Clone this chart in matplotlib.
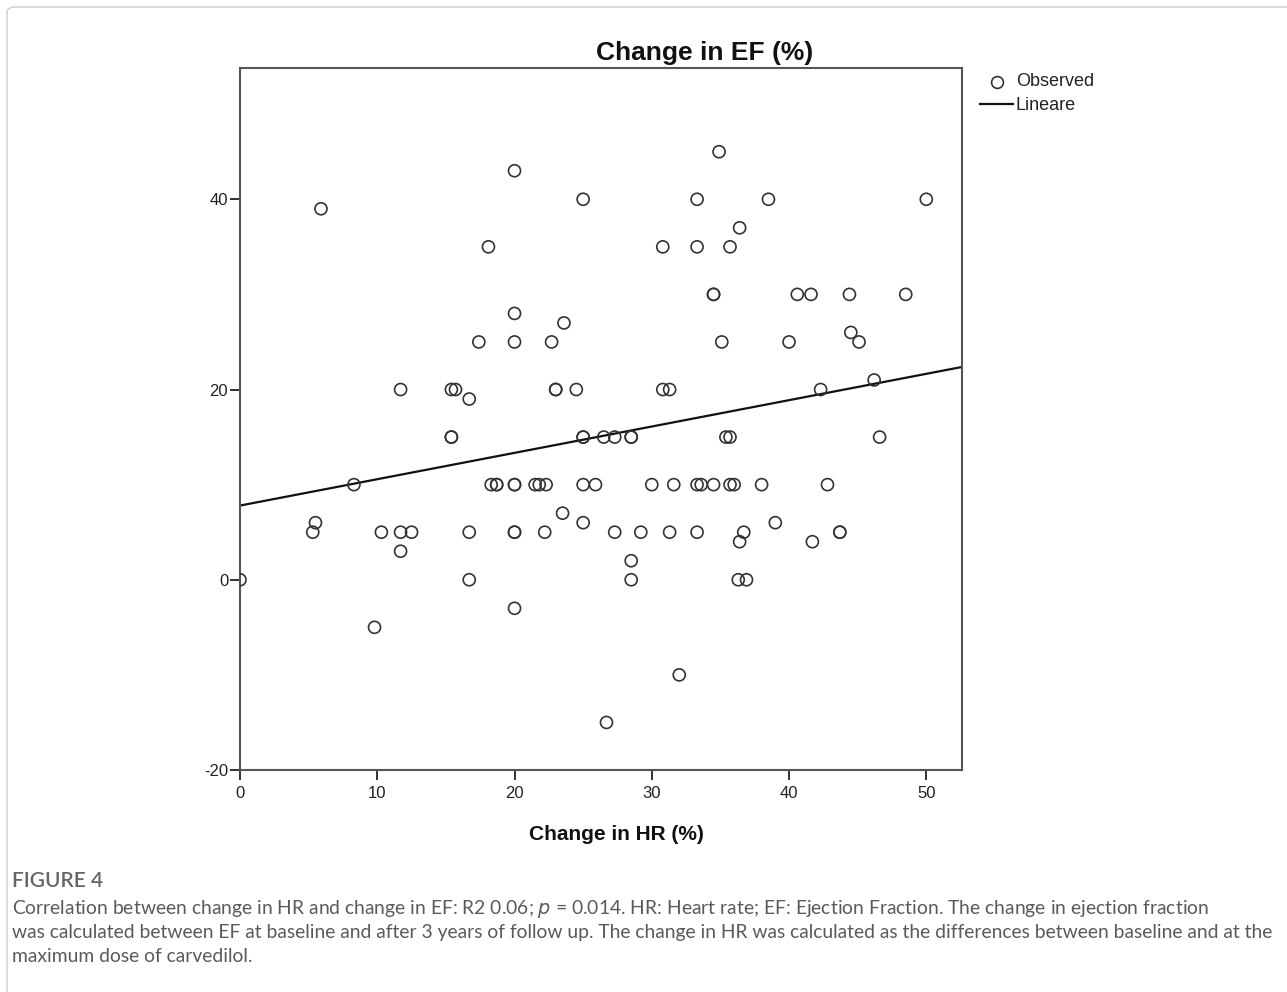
import matplotlib
matplotlib.use('Agg')
import matplotlib.pyplot as plt
from matplotlib.lines import Line2D
from matplotlib.patches import FancyBboxPatch

# data (change in HR %, change in EF %)
hr_change = [34.9, 20.0, 5.9, 25.0, 33.3, 38.5, 50.0, 36.4, 18.1, 30.8,
             33.3, 35.7, 34.5, 34.5, 40.6, 41.6, 44.4, 48.5, 20.0, 23.6,
             44.5, 45.1, 17.4, 20.0, 22.7, 35.1, 40.0, 46.2, 11.7, 15.4,
             15.7, 23.0, 23.0, 24.5, 30.8, 31.3, 42.3, 16.7, 15.4, 15.4,
             25.0, 25.0, 26.5, 27.3, 28.5, 28.5, 35.4, 35.7, 46.6, 8.3,
             18.3, 18.7, 18.7, 20.0, 20.0, 21.5, 21.8, 22.3, 25.0, 25.9,
             30.0, 31.6, 33.3, 33.6, 34.5, 35.7, 36.0, 38.0, 42.8, 23.5,
             25.0, 39.0, 5.5, 5.3, 10.3, 11.7, 12.5, 16.7, 20.0, 20.0,
             22.2, 27.3, 29.2, 31.3, 33.3, 36.7, 43.7, 43.7, 11.7, 28.5,
             36.4, 41.7, 0.0, 16.7, 28.5, 36.3, 36.9, 20.0, 9.8, 32.0,
             26.7]
ef_change = [45, 43, 39, 40, 40, 40, 40, 37, 35, 35,
             35, 35, 30, 30, 30, 30, 30, 30, 28, 27,
             26, 25, 25, 25, 25, 25, 25, 21, 20, 20,
             20, 20, 20, 20, 20, 20, 20, 19, 15, 15,
             15, 15, 15, 15, 15, 15, 15, 15, 15, 10,
             10, 10, 10, 10, 10, 10, 10, 10, 10, 10,
             10, 10, 10, 10, 10, 10, 10, 10, 10, 7,
             6, 6, 6, 5, 5, 5, 5, 5, 5, 5,
             5, 5, 5, 5, 5, 5, 5, 5, 3, 2,
             4, 4, 0, 0, 0, 0, 0, -3, -5, -10,
             -15]

# linear fit as drawn in the reference
fit_intercept = 7.8
fit_slope = 0.277

x_ticks = [0, 10, 20, 30, 40, 50]
y_ticks = [-20, 0, 20, 40]

caption_lines = [
    'Correlation between change in HR and change in EF: R2 0.06; $\\it{p}$ = 0.014. HR: Heart rate; EF: Ejection Fraction. The change in ejection fraction',
    'was calculated between EF at baseline and after 3 years of follow up. The change in HR was calculated as the differences between baseline and at the',
    'maximum dose of carvedilol.',
]

plt.rcParams['font.family'] = ['Liberation Sans', 'DejaVu Sans']
plt.rcParams['axes.unicode_minus'] = False

fig = plt.figure(figsize=(12.87, 9.92), dpi=100)

# light frame round the figure panel
frame = FancyBboxPatch((7 / 1287, -0.05), 1.1, 1.0 - 7 / 992 + 0.05,
                       boxstyle='round,pad=0,rounding_size=0.006',
                       transform=fig.transFigure, fill=False,
                       edgecolor='#cccccc', linewidth=1.0)
fig.patches.append(frame)

ax = fig.add_axes([240 / 1287, 222 / 992, 722 / 1287, 702 / 992])

ax.scatter(hr_change, ef_change, s=75, facecolors='none',
           edgecolors='#333333', linewidths=1.2, zorder=3)

xl = (0, 52.6)
ax.plot(xl, [fit_intercept + fit_slope * v for v in xl], color='#111111',
        linewidth=1.6, zorder=2)

ax.set_xlim(*xl)
ax.set_ylim(-20, 53.8)
ax.set_xticks(x_ticks)
ax.set_yticks(y_ticks)
ax.tick_params(direction='out', length=7.5, width=1.3, labelsize=12,
               colors='#222222', pad=1)
ax.tick_params(axis='x', pad=4)
for sp in ax.spines.values():
    sp.set_color('#555555')
    sp.set_linewidth(1.5)

fig.text(705 / 1287, 1 - 53 / 992, 'Change in EF (%)', ha='center', va='center',
         fontsize=19, fontweight='bold', color='#111111')
fig.text(616 / 1287, 1 - 834 / 992, 'Change in HR (%)', ha='center', va='center',
         fontsize=15, fontweight='bold', color='#111111')

# legend drawn outside the axes, as in the original
fig.add_artist(Line2D([997 / 1287], [1 - 82 / 992], marker='o', markersize=8.5,
                      markerfacecolor='none', markeredgecolor='#333333',
                      markeredgewidth=1.2, transform=fig.transFigure))
fig.add_artist(Line2D([980 / 1287, 1013 / 1287], [1 - 104 / 992] * 2,
                      color='#111111', linewidth=1.6, transform=fig.transFigure))
fig.text(1016 / 1287, 1 - 82 / 992, 'Observed', ha='left', va='center',
         fontsize=13, color='#222222')
fig.text(1016 / 1287, 1 - 105 / 992, 'Lineare', ha='left', va='center',
         fontsize=13, color='#222222')

# caption
fig.text(12 / 1287, 1 - 881 / 992, 'FIGURE 4', ha='left', va='center',
         fontsize=15, fontweight='semibold', color='#666666',
         family=['Lato', 'DejaVu Sans'])
for i, line in enumerate(caption_lines):
    fig.text(12 / 1287, 1 - (909 + i * 23.7) / 992, line, ha='left', va='center',
             fontsize=13.9, color='#5a5a5a', family=['Lato', 'DejaVu Sans'])

fig.savefig('out.png', dpi=100)
